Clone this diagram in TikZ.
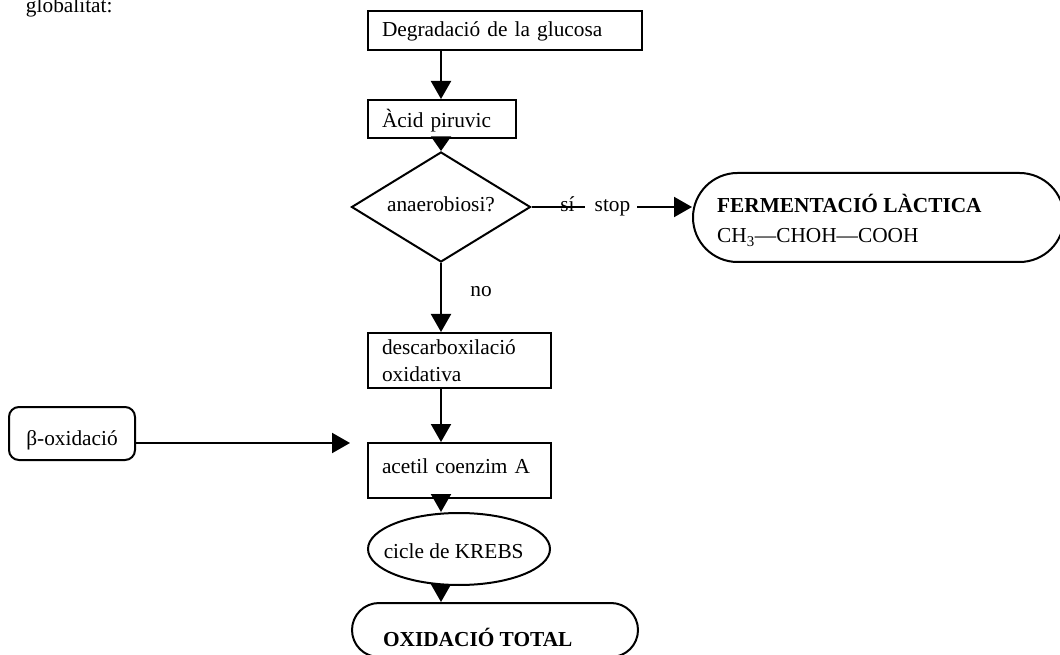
\documentclass[tikz,border=0pt]{standalone}
\usepackage{fontspec}
\setmainfont{Liberation Serif}
\usetikzlibrary{arrows.meta,shapes.geometric,shapes.misc}
\begin{document}
\begin{tikzpicture}[
  x=0.75pt, y=0.75pt,
  font=\fontsize{16pt}{20pt}\selectfont,
  line width=1.5pt,
  arr/.style={-{Triangle[length=13.5pt,width=15pt]}},
  shortarr/.style={-{Triangle[length=11pt,width=15pt]}},
  flowbox/.style={draw, rectangle, inner xsep=10.5pt, inner ysep=0pt, align=left},
  decision/.style={draw, diamond, aspect=1.63, inner sep=0pt},
  terminal/.style={draw, rounded rectangle, inner sep=0pt},
  tag/.style={inner sep=0pt, anchor=base},
]
\useasboundingbox (0,0) rectangle (1060,654);

% vertical axis of the main chain
\coordinate (ax) at (441,0);

\node[anchor=base west, inner sep=0pt] (intro) at (25,641) {globalitat:};

% main chain
\node[flowbox, text width=184.5pt, minimum height=29.25pt, text height=9.75pt, text depth=0pt]
  (glu) at (505,623.5) {Degradació de la glucosa};
\node[flowbox, text width=90pt, minimum height=28.5pt, text height=13.5pt, text depth=0pt]
  (pir) at (442,535) {Àcid piruvic};
\node[decision, minimum width=134.25pt, minimum height=82.5pt, text height=7.5pt, text depth=0pt]
  (dia) at (441,447) {anaerobiosi?};
\node[flowbox, text width=116.25pt, minimum height=41.25pt]
  (desc) at (459.5,293.5) {descarboxilació\\oxidativa};
\node[flowbox, text width=116.25pt, minimum height=41.25pt, text height=4pt, text depth=0pt]
  (acet) at (459.5,183.5) {acetil coenzim A};
\node[draw, ellipse, minimum width=136.5pt, minimum height=54pt, inner sep=0pt]
  (krebs) at (459,105) {\raisebox{-6.75pt}[0pt][0pt]{\makebox[0pt]{cicle de KREBS\hspace{8pt}}}};
\node[terminal, minimum width=214.5pt, minimum height=40.5pt]
  (oxid) at (495,24) {\raisebox{-9.75pt}[0pt][0pt]{\makebox[0pt]{\parbox{168pt}{\bfseries OXIDACIÓ TOTAL}}}};

% anaerobic branch
\node[terminal, minimum width=278.25pt, minimum height=66.75pt]
  (ferm) at (878.5,436.5) {\raisebox{3.4pt}[0pt][0pt]{\makebox[0pt]{\parbox[t]{242pt}{\fontsize{16pt}{22.5pt}\selectfont
    \textbf{FERMENTACIÓ LÀCTICA}\\CH\textsubscript{3}—CHOH—COOH}}}};
\node[tag, inner xsep=7pt] (si) at (567.5,442) {sí};
\node[tag, inner xsep=4.5pt] (stop) at (612.5,442) {stop};
\node[tag] (no) at (481,357) {no};

% side input
\node[draw, rectangle, rounded corners=7.5pt, minimum width=94.5pt, minimum height=39.75pt,
  inner sep=0pt, text height=17.25pt, text depth=0pt]
  (beta) at (72,220.5) {β-oxidació};
\coordinate (betaend) at (350,211);

% connectors
\draw[arr] (glu.south -| ax) -- (pir.north -| ax);
\draw[shortarr] (pir.south -| ax) -- (dia.north);
\draw (dia.east) -- (dia.east -| si.east);
\draw[arr] (dia.east -| stop.east) -- (dia.east -| ferm.west);
\draw[arr] (dia.south) -- (desc.north -| ax);
\draw[arr] (desc.south -| ax) -- (acet.north -| ax);
\draw[arr] (acet.south -| ax) -- (krebs.north -| ax);
\draw[arr] (krebs.south -| ax) -- (oxid.north -| ax);
\draw[arr] (beta.east |- betaend) -- (betaend);
\end{tikzpicture}
\end{document}
